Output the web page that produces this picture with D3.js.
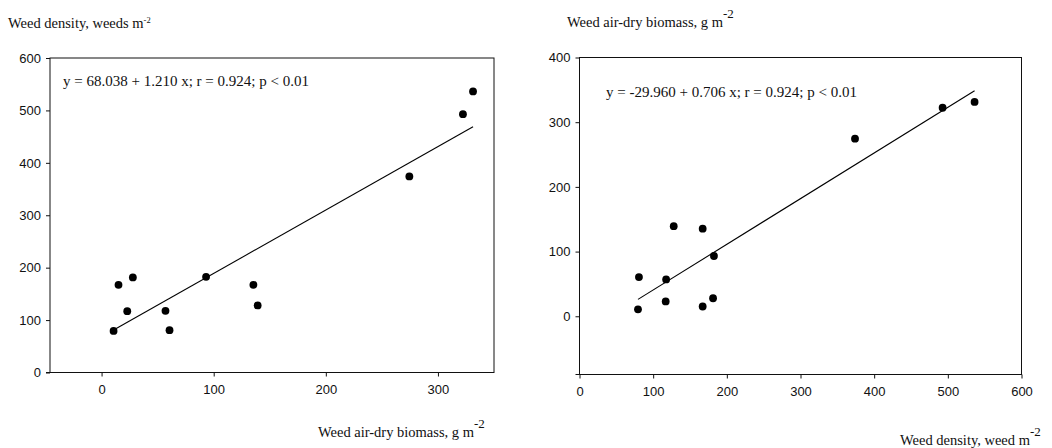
<!DOCTYPE html>
<html>
<head>
<meta charset="utf-8">
<script src="https://cdn.jsdelivr.net/npm/d3@7"></script>
<style>
  html, body { margin: 0; padding: 0; background: #fff; }
  svg { display: block; }
  .tick text { font-family: Arial, "Liberation Sans", sans-serif; font-size: 13px; fill: #111; }
  .serif { font-family: "Times New Roman", "Liberation Serif", serif; fill: #111; }
</style>
</head>
<body>
<svg id="chart" width="1052" height="448"></svg>
<script>
// Plot observations: weed air-dry biomass (g m-2) and weed density (weeds m-2)
const biomass = [10.7, 15.1, 27.9, 22.9, 57.0, 60.6, 93.2, 135.4, 139.2, 274.5, 322.3, 331.3];
const density = [79.4, 167.2, 181.3, 117.0, 117.6, 80.7, 182.5, 167.2, 127.9, 374.0, 492.9, 536.3];

// Linear fits: [intercept, slope, r]
const fitDensityOnBiomass = [68.038, 1.210, 0.924];
const fitBiomassOnDensity = [-29.960, 0.706, 0.924];
const pLabel = "p < 0.01";

// Axis ticks
const leftXTicks = [0, 100, 200, 300];
const leftYTicks = [0, 100, 200, 300, 400, 500, 600];
const rightXTicks = [0, 100, 200, 300, 400, 500, 600];
const rightYTicks = [0, 100, 200, 300, 400];

const svg = d3.select("#chart");

function equation(fit) {
  const a = fit[0], b = fit[1], r = fit[2];
  return "y = " + a.toFixed(3) + " + " + b.toFixed(3) + " x; r = " + r.toFixed(3) + "; " + pLabel;
}

function titleWithSup(x, y, main, sup, supSize, supRise, size) {
  const t = svg.append("text").attr("class", "serif")
    .attr("x", x).attr("y", y).style("font-size", size + "px");
  t.append("tspan").text(main);
  t.append("tspan").attr("dy", -supRise).style("font-size", supSize + "px").text(sup);
}

function panel(cfg) {
  const x = d3.scaleLinear().domain(cfg.xDomain).range(cfg.xRange);
  const y = d3.scaleLinear().domain(cfg.yDomain).range(cfg.yRange);
  const g = svg.append("g");

  // frame
  g.append("rect")
    .attr("x", cfg.xRange[0]).attr("y", cfg.yRange[1])
    .attr("width", cfg.xRange[1] - cfg.xRange[0])
    .attr("height", cfg.yRange[0] - cfg.yRange[1])
    .attr("fill", "none").attr("stroke", "#111").attr("stroke-width", 1);

  const xa = g.append("g")
    .attr("transform", "translate(0," + cfg.yRange[0] + ")")
    .call(d3.axisBottom(x).tickValues(cfg.xTicks).tickSize(4).tickSizeOuter(0).tickPadding(8).tickFormat(d3.format("d")));
  xa.select(".domain").remove();
  xa.selectAll(".tick line").attr("stroke", "#111");

  const ya = g.append("g")
    .attr("transform", "translate(" + cfg.xRange[0] + ",0)")
    .call(d3.axisLeft(y).tickValues(cfg.yTicks).tickSize(4).tickSizeOuter(0).tickPadding(5).tickFormat(d3.format("d")));
  ya.select(".domain").remove();
  ya.selectAll(".tick line").attr("stroke", "#111");

  // x axis line extends slightly past the y axis
  g.append("line")
    .attr("x1", cfg.xRange[0] - 4).attr("x2", cfg.xRange[0])
    .attr("y1", cfg.yRange[0]).attr("y2", cfg.yRange[0])
    .attr("stroke", "#111");

  // regression line across the observed x range
  const xs = d3.extent(cfg.xs);
  const f = cfg.fit;
  g.append("line")
    .attr("x1", x(xs[0])).attr("y1", y(f[0] + f[1] * xs[0]))
    .attr("x2", x(xs[1])).attr("y2", y(f[0] + f[1] * xs[1]))
    .attr("stroke", "#000").attr("stroke-width", 1.1);

  g.selectAll("circle").data(d3.range(cfg.xs.length)).join("circle")
    .attr("cx", i => x(cfg.xs[i]))
    .attr("cy", i => y(cfg.ys[i]))
    .attr("r", 3.9)
    .attr("fill", "#000");

  g.append("text").attr("class", "serif")
    .attr("x", cfg.eqPos[0]).attr("y", cfg.eqPos[1])
    .style("font-size", "15px")
    .text(equation(f));
}

panel({
  xDomain: [-46, 350], xRange: [50, 494],
  yDomain: [0, 600], yRange: [372.5, 58],
  xTicks: leftXTicks, yTicks: leftYTicks,
  xs: biomass, ys: density,
  fit: fitDensityOnBiomass,
  eqPos: [63, 86]
});

panel({
  xDomain: [0, 600], xRange: [579.5, 1021.5],
  yDomain: [-90, 400], yRange: [374.5, 57.5],
  xTicks: rightXTicks, yTicks: rightYTicks,
  xs: density, ys: biomass,
  fit: fitBiomassOnDensity,
  eqPos: [606, 97]
});

titleWithSup(8, 28, "Weed density, weeds m", "-2", 8.5, 5, 14.5);
titleWithSup(567, 27, "Weed air-dry biomass, g m", "-2", 13, 9, 14.5);
titleWithSup(318, 437, "Weed air-dry biomass, g m", "-2", 13, 9, 14.5);
titleWithSup(900, 445, "Weed density, weed m", "-2", 13, 9, 14.5);
</script>
</body>
</html>
